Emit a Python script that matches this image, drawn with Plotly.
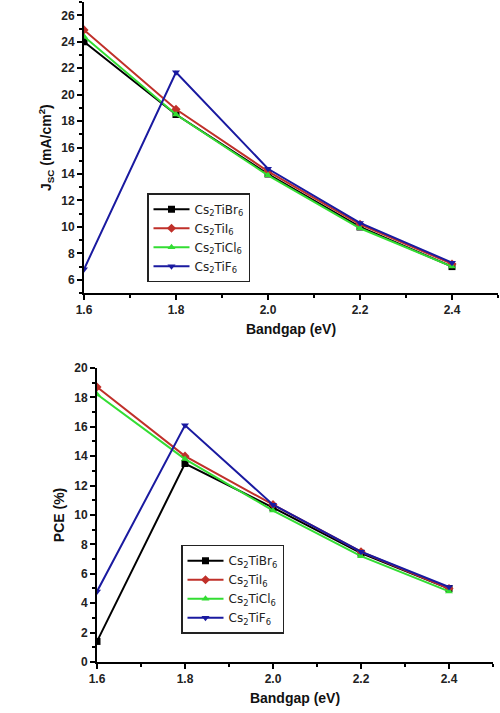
import plotly.graph_objects as go

bandgap = [1.6, 1.8, 2.0, 2.2, 2.4]
names = ["Cs<sub>2</sub>TiBr<sub>6</sub>", "Cs<sub>2</sub>TiI<sub>6</sub>",
         "Cs<sub>2</sub>TiCl<sub>6</sub>", "Cs<sub>2</sub>TiF<sub>6</sub>"]
jsc_br = [24.0, 18.5, 14.0, 10.0, 7.0]
jsc_i = [24.9, 18.9, 14.2, 10.2, 7.2]
jsc_cl = [24.4, 18.5, 13.9, 9.9, 7.0]
jsc_f = [6.8, 21.7, 14.4, 10.3, 7.3]
pce_br = [1.4, 13.5, 10.5, 7.4, 5.0]
pce_i = [18.7, 14.0, 10.7, 7.5, 5.0]
pce_cl = [18.2, 13.8, 10.3, 7.2, 4.8]
pce_f = [4.8, 16.1, 10.7, 7.5, 5.1]

colors = ["#000000", "#c0302a", "#33dd33", "#1a1aa0"]
symbols = ["square", "diamond", "triangle-up", "triangle-down"]

fig = go.Figure()
for k, ys in enumerate([jsc_br, jsc_i, jsc_cl, jsc_f]):
    fig.add_trace(go.Scatter(x=bandgap, y=ys, mode="lines+markers", name=names[k],
                             line=dict(color=colors[k], width=2),
                             marker=dict(color=colors[k], symbol=symbols[k], size=7),
                             xaxis="x", yaxis="y", legend="legend"))
for k, ys in enumerate([pce_br, pce_i, pce_cl, pce_f]):
    fig.add_trace(go.Scatter(x=bandgap, y=ys, mode="lines+markers", name=names[k],
                             line=dict(color=colors[k], width=2),
                             marker=dict(color=colors[k], symbol=symbols[k], size=7),
                             xaxis="x2", yaxis="y2", legend="legend2"))

tickfont = dict(family="Liberation Sans, Arial", size=12, color="#222222")
titlefont = dict(family="Liberation Sans, Arial", size=14, color="#111111")

def xax(domain, anchor):
    return dict(domain=domain, anchor=anchor, range=[1.6, 2.5], dtick=0.2, tick0=1.6,
                tickformat=".1f", showline=True, linecolor="black", linewidth=2,
                ticks="outside", ticklen=5, tickwidth=2, tickcolor="black",
                minor=dict(ticks="outside", ticklen=3, dtick=0.1, tickcolor="black", tickwidth=1.5),
                showgrid=False, zeroline=False, tickfont=tickfont, automargin=False,
                tickprefix="<b>", ticksuffix="</b>",
                title=dict(text="<b>Bandgap (eV)</b>", font=titlefont, standoff=8))

def yax(domain, anchor, rng, title):
    return dict(domain=domain, anchor=anchor, range=rng, dtick=2,
                showline=True, linecolor="black", linewidth=2,
                ticks="outside", ticklen=5, tickwidth=2, tickcolor="black",
                minor=dict(ticks="outside", ticklen=3, dtick=1, tickcolor="black", tickwidth=1.5),
                showgrid=False, zeroline=False, tickfont=tickfont, automargin=False,
                tickprefix="<b>", ticksuffix="</b>",
                title=dict(text=title, font=titlefont, standoff=6))

legfont = dict(family="DejaVu Sans, Liberation Sans", size=12, color="#222222")
fig.update_layout(
    width=500, height=713, margin=dict(l=0, r=0, t=0, b=0, autoexpand=False),
    plot_bgcolor="white", paper_bgcolor="white",
    xaxis=xax([0.168, 0.996], "y"),
    yaxis=yax([0.589, 0.997], "x", [5, 27], "<b>J<sub>SC</sub> (mA/cm<sup>2</sup>)</b>"),
    xaxis2=xax([0.194, 0.986], "y2"),
    yaxis2=yax([0.0715, 0.484], "x2", [0, 20], "<b>PCE (%)</b>"),
    legend=dict(x=0.294, y=0.729, xanchor="left", yanchor="top", bordercolor="#222222",
                borderwidth=1.5, bgcolor="white", font=legfont, tracegroupgap=0,
                itemwidth=36),
    legend2=dict(x=0.362, y=0.236, xanchor="left", yanchor="top", bordercolor="#222222",
                 borderwidth=1.5, bgcolor="white", font=legfont, tracegroupgap=0,
                 itemwidth=36),
    showlegend=True,
)
fig.write_html("out.html", config={"displayModeBar": False},
               post_script="document.body.style.margin='0px';document.body.style.overflow='hidden';")
